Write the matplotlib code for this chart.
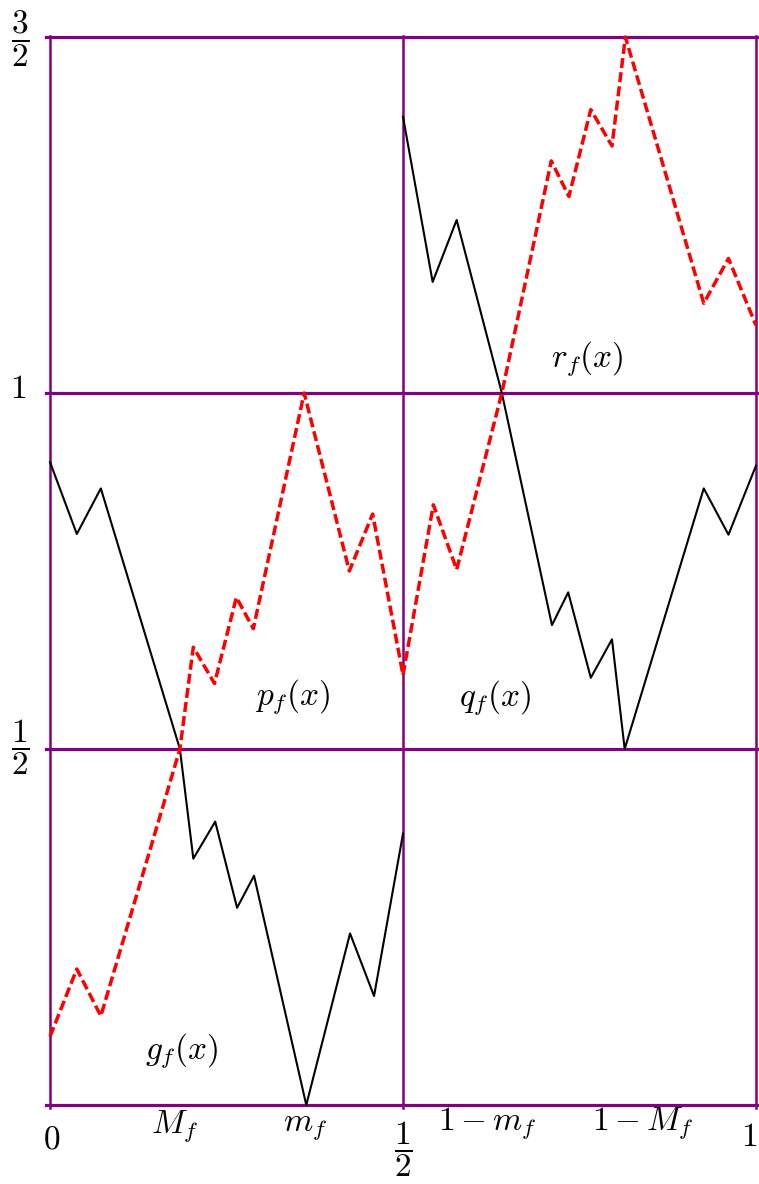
import matplotlib
matplotlib.use("Agg")
import matplotlib.pyplot as plt

plt.rcParams['mathtext.fontset'] = 'cm'
plt.rcParams['font.family'] = ['DejaVu Serif']

# black curve on [0, 1/2] (g_f then into p_f row)
black_left_x = [0.0, 0.038, 0.072, 0.184, 0.203, 0.234, 0.265, 0.289, 0.363, 0.425, 0.459, 0.5]
black_left_y = [0.903, 0.802, 0.866, 0.5, 0.346, 0.398, 0.277, 0.322, 0.0, 0.241, 0.153, 0.381]

# red dashed curve on [0, 1/2]
red_left_x = [0.0, 0.038, 0.072, 0.184, 0.203, 0.233, 0.264, 0.288, 0.360, 0.424, 0.457, 0.5]
red_left_y = [0.096, 0.191, 0.125, 0.5, 0.643, 0.592, 0.713, 0.669, 1.0, 0.750, 0.830, 0.604]

# black curve on [1/2, 1]
black_right_x = [0.5, 0.542, 0.576, 0.640, 0.711, 0.734, 0.766, 0.796, 0.814, 0.926, 0.961, 1.0]
black_right_y = [1.388, 1.156, 1.243, 1.0, 0.674, 0.720, 0.600, 0.654, 0.5, 0.866, 0.801, 0.898]

# red dashed curve on [1/2, 1]
red_right_x = [0.5, 0.543, 0.576, 0.640, 0.710, 0.735, 0.766, 0.796, 0.815, 0.926, 0.961, 1.0]
red_right_y = [0.604, 0.843, 0.752, 1.0, 1.326, 1.276, 1.398, 1.347, 1.5, 1.126, 1.189, 1.095]

# grid
grid_x = [0.0, 0.5, 1.0]
grid_y = [0.0, 0.5, 1.0, 1.5]

# axis labels
xlabels = [r'$0$', r'$M_f$', r'$m_f$', r'$\dfrac{1}{2}$', r'$1-m_f$', r'$1-M_f$', r'$1$']
xlabel_pos = [(0.003, -0.049), (0.177, -0.030), (0.361, -0.030), (0.501, -0.062),
              (0.619, -0.026), (0.840, -0.026), (1.002, -0.045)]
ylabels = [r'$\dfrac{3}{2}$', r'$1$', r'$\dfrac{1}{2}$']
ylabel_pos = [(-0.042, 1.498), (-0.045, 1.006), (-0.042, 0.502)]

# curve names
names = [r'$g_f(x)$', r'$p_f(x)$', r'$q_f(x)$', r'$r_f(x)$']
name_pos = [(0.187, 0.077), (0.343, 0.574), (0.630, 0.572), (0.761, 1.048)]

purple = '#800080'

fig = plt.figure(figsize=(7.59, 11.84), dpi=100)
ax = fig.add_axes([50 / 759, 79 / 1184, 706 / 759, 1068 / 1184])
ax.set_xlim(0, 1)
ax.set_ylim(0, 1.5)
ax.axis('off')

# purple grid
for gy in grid_y:
    ax.plot([-0.005, 1.004], [gy, gy], color=purple, lw=2.3, clip_on=False, zorder=1)
for gx in grid_x:
    ax.plot([gx, gx], [-0.004, 1.502], color=purple, lw=1.8, clip_on=False, zorder=1)

# curves
ax.plot(black_left_x, black_left_y, color='black', lw=1.5, zorder=3, clip_on=False)
ax.plot(black_right_x, black_right_y, color='black', lw=1.5, zorder=3, clip_on=False)
for xs, ys in [(red_left_x, red_left_y), (red_right_x, red_right_y)]:
    line, = ax.plot(xs, ys, color='red', lw=2.5, zorder=4, clip_on=False)
    line.set_dashes((2.9, 1.2))

for lab, (px, py) in zip(xlabels, xlabel_pos):
    ha = 'right' if lab == r'$1$' else 'center'
    ax.text(px, py, lab, fontsize=24, ha=ha, va='center', clip_on=False)
for lab, (px, py) in zip(ylabels, ylabel_pos):
    ax.text(px, py, lab, fontsize=24, ha='center', va='center', clip_on=False)
for lab, (px, py) in zip(names, name_pos):
    ax.text(px, py, lab, fontsize=24, ha='center', va='center')

fig.savefig('out.png', dpi=100)
